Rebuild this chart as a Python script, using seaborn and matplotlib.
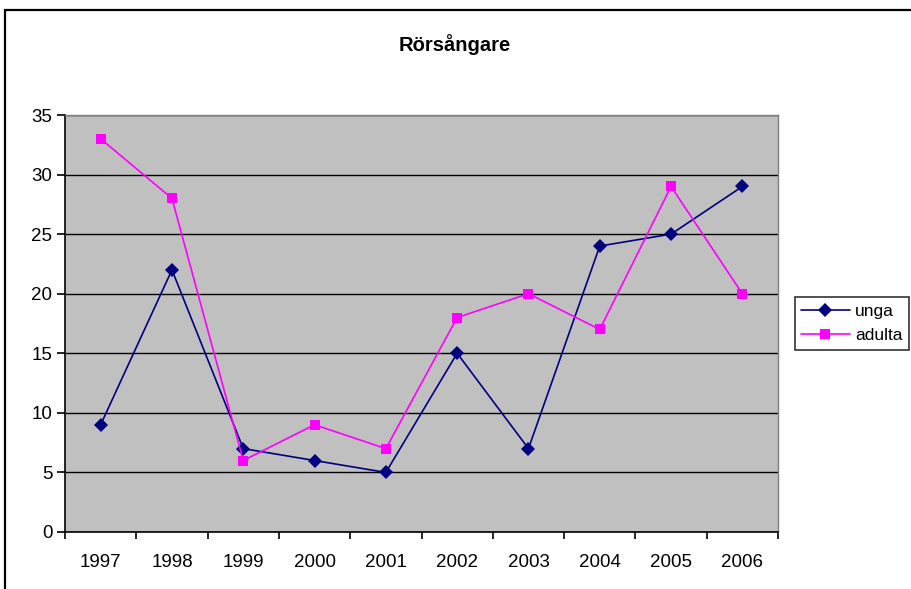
import matplotlib
matplotlib.use("Agg")
import matplotlib.pyplot as plt
import seaborn as sns
import pandas as pd
from matplotlib.patches import Rectangle

# Data
years = [1997, 1998, 1999, 2000, 2001, 2002, 2003, 2004, 2005, 2006]
unga = [9, 22, 7, 6, 5, 15, 7, 24, 25, 29]
adulta = [33, 28, 6, 9, 7, 18, 20, 17, 29, 20]
series_names = ["unga", "adulta"]
title = "Rörsångare"

df = pd.DataFrame({"year": years, "unga": unga, "adulta": adulta})
long_df = df.melt(id_vars="year", value_vars=series_names, var_name="serie", value_name="antal")

sns.set_style("white")
plt.rcParams["font.family"] = ["Liberation Sans", "DejaVu Sans"]
plt.rcParams["text.color"] = "black"
plt.rcParams["xtick.color"] = "black"
plt.rcParams["ytick.color"] = "black"
plt.rcParams["xtick.labelcolor"] = "black"
plt.rcParams["ytick.labelcolor"] = "black"

fig = plt.figure(figsize=(9.12, 5.89), dpi=100)
ax = fig.add_axes([65 / 912, 57 / 589, 713 / 912, 417 / 589])
ax.set_facecolor("#C0C0C0")

# outer chart border (clipped at right/bottom like the original)
fig.patches.append(Rectangle((5 / 912, -0.05), 1.0, 1 - 10 / 589 + 0.05,
                             transform=fig.transFigure, fill=False,
                             edgecolor="black", linewidth=1.6))

sns.lineplot(data=long_df, x="year", y="antal", hue="serie", style="serie",
             palette={"unga": "#000080", "adulta": "#FF00FF"},
             markers={"unga": "D", "adulta": "s"}, dashes=False,
             markersize=7.5, linewidth=1.2, markeredgewidth=0, ax=ax)

ax.set_xlim(years[0] - 0.5, years[-1] + 0.5)
ax.set_ylim(0, 35)
ax.set_yticks(range(0, 36, 5))
ax.yaxis.grid(True, color="black", linewidth=1)
ax.set_axisbelow(True)

# category axis: ticks on boundaries, labels in the middle
ax.set_xticks([y - 0.5 for y in years] + [years[-1] + 0.5])
ax.set_xticklabels([])
ax.set_xticks(years, minor=True)
ax.set_xticklabels([str(y) for y in years], minor=True)
ax.tick_params(axis="x", which="major", bottom=True, direction="out", length=5, width=1.2, color="black")
ax.tick_params(axis="x", which="minor", bottom=True, length=0, pad=16, labelsize=13.5, labelcolor="black")
ax.tick_params(axis="y", left=True, direction="out", length=6, width=1.2, color="black",
               labelsize=13.5, pad=3, labelcolor="black")

for side in ["top", "right"]:
    ax.spines[side].set_color("#808080")
    ax.spines[side].set_linewidth(1)
for side in ["left", "bottom"]:
    ax.spines[side].set_color("black")
    ax.spines[side].set_linewidth(1.2)

ax.set_xlabel("")
ax.set_ylabel("")
fig.text(455 / 912, 1 - 45 / 589, title, ha="center", va="center",
         fontsize=14.5, fontweight="bold", color="black")

leg = ax.legend(title=None, loc="center left", bbox_to_anchor=(1.024, 0.5),
                frameon=True, fancybox=False, fontsize=12.5, borderpad=0.35,
                handlelength=2.8, handletextpad=0.3, labelspacing=0.55, borderaxespad=0)
leg.get_frame().set_edgecolor("black")
leg.get_frame().set_linewidth(1.2)
for t in leg.get_texts():
    t.set_color("black")

fig.savefig("out.png", dpi=100)
